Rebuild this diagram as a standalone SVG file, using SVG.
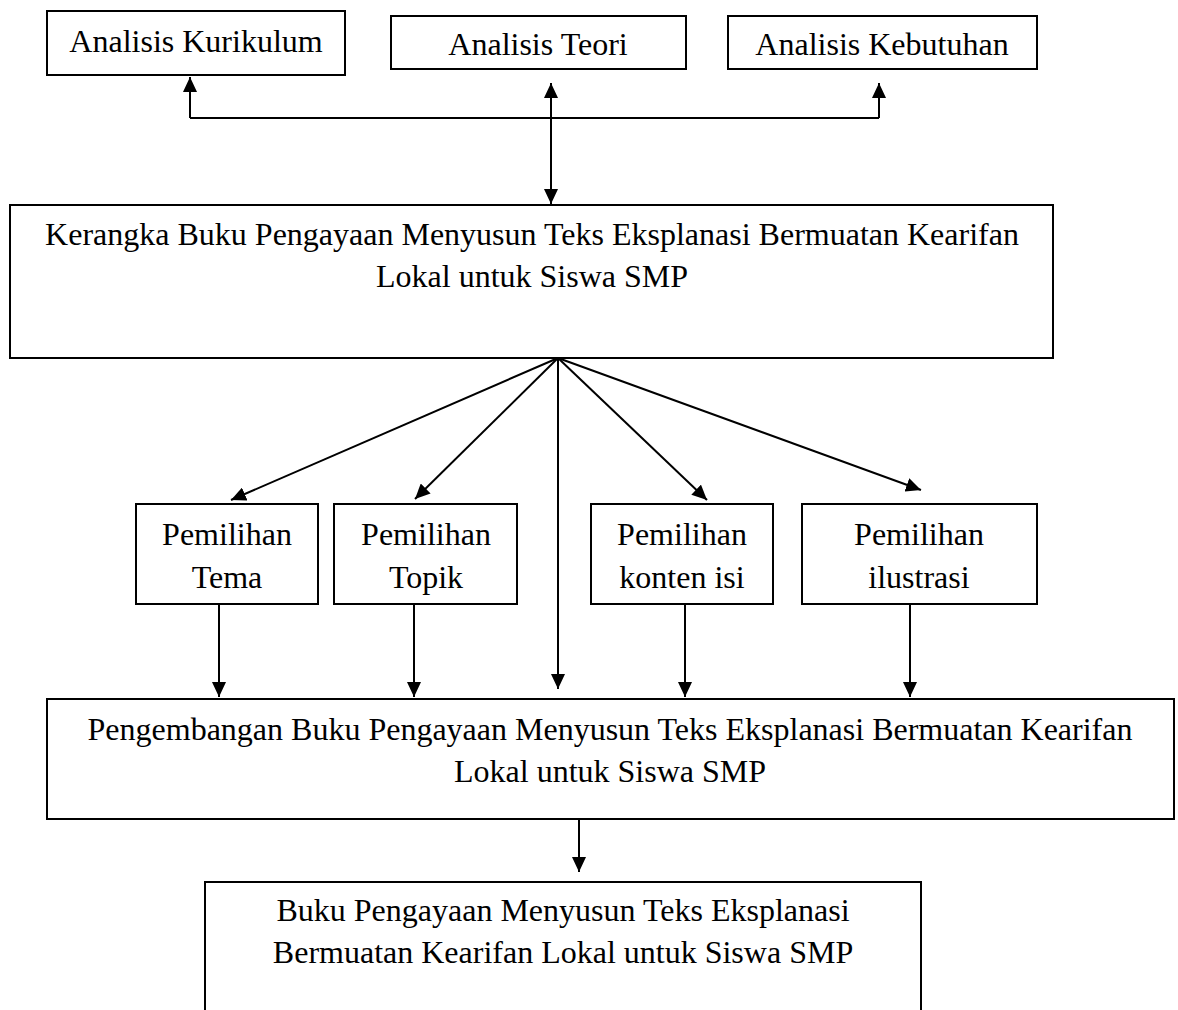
<svg xmlns="http://www.w3.org/2000/svg" width="1178" height="1010" viewBox="0 0 1178 1010">
<style>
.box{fill:#fff;stroke:#000;stroke-width:2}
.t{font-family:"Liberation Serif","Times New Roman",serif;font-size:32px;fill:#000;text-anchor:middle}
.c{fill:none;stroke:#000;stroke-width:2}
</style>
<defs>
<marker id="ah" viewBox="0 0 15 14" refX="15" refY="7" markerWidth="15" markerHeight="14" orient="auto-start-reverse" markerUnits="userSpaceOnUse">
<path d="M0,0 L15,7 L0,14 z" fill="#000"/>
</marker>
</defs>
<rect width="1178" height="1010" fill="#fff"/>
<g id="connectors">
<path class="c" d="M190,118 H879"/>
<path class="c" d="M190,118 V77" marker-end="url(#ah)"/>
<path class="c" d="M879,118 V83" marker-end="url(#ah)"/>
<path class="c" d="M551,83 V204" marker-start="url(#ah)" marker-end="url(#ah)"/>
<path class="c" d="M558,358 L231,500" marker-end="url(#ah)"/>
<path class="c" d="M558,358 L415,499" marker-end="url(#ah)"/>
<path class="c" d="M558,358 V689" marker-end="url(#ah)"/>
<path class="c" d="M558,358 L707,500" marker-end="url(#ah)"/>
<path class="c" d="M558,358 L921,490" marker-end="url(#ah)"/>
<path class="c" d="M219,604 V697" marker-end="url(#ah)"/>
<path class="c" d="M414,604 V697" marker-end="url(#ah)"/>
<path class="c" d="M685,604 V697" marker-end="url(#ah)"/>
<path class="c" d="M910,604 V697" marker-end="url(#ah)"/>
<path class="c" d="M579,819 V872" marker-end="url(#ah)"/>
</g>
<g id="analisis-kurikulum">
<rect class="box" x="47" y="11" width="298" height="64"/>
<text class="t" x="196" y="52">Analisis Kurikulum</text>
</g>
<g id="analisis-teori">
<rect class="box" x="391" y="16" width="295" height="53"/>
<text class="t" x="538" y="55">Analisis Teori</text>
</g>
<g id="analisis-kebutuhan">
<rect class="box" x="728" y="16" width="309" height="53"/>
<text class="t" x="882" y="55">Analisis Kebutuhan</text>
</g>
<g id="kerangka">
<rect class="box" x="10" y="205" width="1043" height="153"/>
<text class="t" x="532" y="245">Kerangka Buku Pengayaan Menyusun Teks Eksplanasi Bermuatan Kearifan</text>
<text class="t" x="532" y="287">Lokal untuk Siswa SMP</text>
</g>
<g id="pemilihan-tema">
<rect class="box" x="136" y="504" width="182" height="100"/>
<text class="t" x="227" y="545">Pemilihan</text>
<text class="t" x="227" y="588">Tema</text>
</g>
<g id="pemilihan-topik">
<rect class="box" x="334" y="504" width="183" height="100"/>
<text class="t" x="426" y="545">Pemilihan</text>
<text class="t" x="426" y="588">Topik</text>
</g>
<g id="pemilihan-konten">
<rect class="box" x="591" y="504" width="182" height="100"/>
<text class="t" x="682" y="545">Pemilihan</text>
<text class="t" x="682" y="588">konten isi</text>
</g>
<g id="pemilihan-ilustrasi">
<rect class="box" x="802" y="504" width="235" height="100"/>
<text class="t" x="919" y="545">Pemilihan</text>
<text class="t" x="919" y="588">ilustrasi</text>
</g>
<g id="pengembangan">
<rect class="box" x="47" y="699" width="1127" height="120"/>
<text class="t" x="610" y="740">Pengembangan Buku Pengayaan Menyusun Teks Eksplanasi Bermuatan Kearifan</text>
<text class="t" x="610" y="782">Lokal untuk Siswa SMP</text>
</g>
<g id="buku-pengayaan">
<rect class="box" x="205" y="882" width="716" height="160"/>
<text class="t" x="563" y="921">Buku Pengayaan Menyusun Teks Eksplanasi</text>
<text class="t" x="563" y="963">Bermuatan Kearifan Lokal untuk Siswa SMP</text>
</g>
</svg>
